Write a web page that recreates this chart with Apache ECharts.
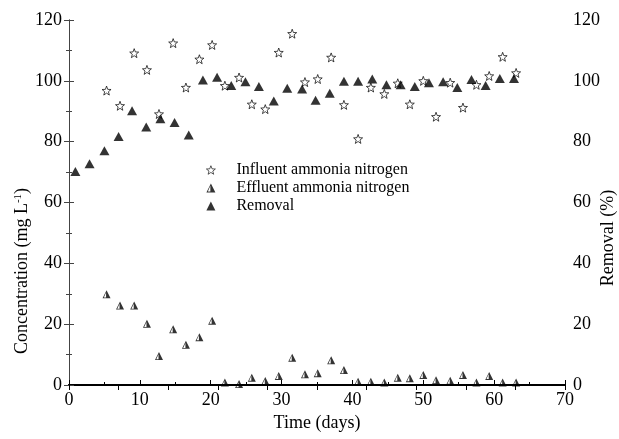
<!DOCTYPE html>
<html>
<head>
<meta charset="utf-8">
<script src="https://cdn.jsdelivr.net/npm/echarts@6/dist/echarts.min.js"></script>
<style>
  html, body { margin: 0; padding: 0; background: #fff; }
  #chart { width: 619px; height: 439px; }
</style>
</head>
<body>
<div id="chart"></div>
<script>
// sampling days for influent / effluent
var sampleDays = [5.3, 7.2, 9.2, 11.0, 12.7, 14.7, 16.5, 18.4, 20.2, 22.0, 24.0, 25.8, 27.7, 29.6, 31.5, 33.3,
                  35.1, 37.0, 38.8, 40.8, 42.6, 44.5, 46.4, 48.1, 50.0, 51.8, 53.8, 55.6, 57.5, 59.3, 61.2, 63.1];
var influent = [96.8, 91.8, 109.1, 103.6, 89.1, 112.4, 97.8, 107.1, 111.8, 98.4, 101.1, 92.3, 90.7, 109.3, 115.5, 99.6,
                100.6, 107.7, 92.1, 80.9, 97.8, 95.7, 99.2, 92.3, 100.0, 88.2, 99.4, 91.2, 98.7, 101.6, 107.9, 102.6];
var effluent = [29.8, 26.1, 26.1, 20.1, 9.5, 18.3, 13.2, 15.7, 21.1, 0.8, 0.3, 2.4, 1.3, 3.0, 9.0, 3.5,
                3.9, 8.1, 4.9, 1.1, 1.1, 0.8, 2.4, 2.2, 3.3, 1.6, 1.4, 3.3, 0.8, 3.0, 0.8, 0.8];
// removal (%)
var removalDays = [0.9, 2.9, 5.0, 7.0, 8.9, 10.9, 12.9, 14.9, 16.9, 18.9, 20.9, 22.9, 24.9, 26.8, 28.9, 30.8,
                   32.9, 34.8, 36.8, 38.8, 40.8, 42.8, 44.8, 46.8, 48.8, 50.8, 52.8, 54.8, 56.8, 58.8, 60.8, 62.8];
var removal = [70.2, 72.7, 77.0, 81.7, 90.2, 84.8, 87.5, 86.3, 82.2, 100.3, 101.2, 98.5, 99.7, 98.1, 93.4, 97.6,
               97.3, 93.6, 95.9, 99.9, 99.9, 100.6, 98.7, 98.7, 98.1, 99.4, 99.7, 97.8, 100.4, 98.5, 100.8, 100.8];

var xTicks = [0, 70, 10];
var yTicks = [0, 120, 20];

var FONT = 'Liberation Serif';

function pairs(xs, ys) {
    return xs.map(function (x, i) { return [x, ys[i]]; });
}

// outline star marker
function starPath() {
    var d = '';
    for (var i = 0; i < 10; i++) {
        var r = i % 2 === 0 ? 10 : 4.2;
        var a = -Math.PI / 2 + i * Math.PI / 5;
        d += (i === 0 ? 'M' : 'L') + (10 + r * Math.cos(a)).toFixed(2) + ',' + (10 + r * Math.sin(a)).toFixed(2) + ' ';
    }
    return 'path://' + d + 'Z';
}
// triangle with a light left edge
var halfTri = 'path://M5,0 L10,10 L0,10 Z M4.4,2.6 L1.6,8.8 L4.4,8.8 Z';

var chart = echarts.init(document.getElementById('chart'));

var axisFont = { color: '#000', fontFamily: FONT, fontSize: 18 };

var option = {
    animation: false,
    backgroundColor: '#fff',
    grid: { left: 69, right: 54, top: 20, bottom: 54 },
    legend: {
        orient: 'vertical',
        left: 201,
        top: 157,
        itemWidth: 9,
        itemHeight: 9,
        itemGap: 2,
        itemStyle: { borderWidth: 0.8 },
        textStyle: { color: '#000', fontFamily: FONT, fontSize: 16, padding: [0, 0, 0, 16] },
        data: ['Influent ammonia nitrogen', 'Effluent ammonia nitrogen', 'Removal']
    },
    xAxis: [{
        type: 'value',
        min: xTicks[0], max: xTicks[1], interval: xTicks[2],
        position: 'bottom',
        axisLine: { lineStyle: { color: '#000', width: 2 } },
        axisTick: { inside: true, length: 5, lineStyle: { color: '#000' } },
        minorTick: { show: true, splitNumber: 2, length: 3, lineStyle: { color: '#000' } },
        axisLabel: Object.assign({ margin: 6 }, axisFont),
        splitLine: { show: false },
        name: 'Time (days)',
        nameLocation: 'middle',
        nameGap: 28,
        nameTextStyle: axisFont
    }, {
        type: 'value',
        min: 0, max: 70, interval: 7,
        position: 'top',
        axisLine: { lineStyle: { color: '#000', width: 2 } },
        axisTick: { inside: true, length: 5, lineStyle: { color: '#000' } },
        axisLabel: { show: false },
        splitLine: { show: false }
    }],
    yAxis: [{
        type: 'value',
        min: yTicks[0], max: yTicks[1], interval: yTicks[2],
        position: 'left',
        axisLine: { show: true, lineStyle: { color: '#444', width: 1 } },
        axisTick: { inside: true, length: 5, lineStyle: { color: '#444' } },
        minorTick: { show: true, splitNumber: 2, length: 3, lineStyle: { color: '#444' } },
        axisLabel: Object.assign({ margin: 7 }, axisFont),
        splitLine: { show: false }
    }, {
        type: 'value',
        min: yTicks[0], max: yTicks[1], interval: yTicks[2],
        position: 'right',
        axisLine: { show: true, lineStyle: { color: '#444', width: 1 } },
        axisTick: { inside: true, length: 5, lineStyle: { color: '#444' } },
        minorTick: { show: true, splitNumber: 2, length: 3, lineStyle: { color: '#444' } },
        axisLabel: Object.assign({ margin: 8 }, axisFont),
        splitLine: { show: false }
    }],
    graphic: [{
        type: 'text',
        x: 22, y: 271,
        rotation: Math.PI / 2,
        style: {
            text: 'Concentration (mg L{sup|-1})',
            fill: '#000',
            font: '18px "Liberation Serif"',
            align: 'center',
            verticalAlign: 'middle',
            rich: {
                sup: { fontSize: 11, fontFamily: FONT, verticalAlign: 'top', lineHeight: 18 }
            }
        }
    }, {
        type: 'text',
        x: 608, y: 238,
        rotation: Math.PI / 2,
        style: {
            text: 'Removal (%)',
            fill: '#000',
            font: '18px "Liberation Serif"',
            align: 'center',
            verticalAlign: 'middle'
        }
    }],
    series: [{
        name: 'Influent ammonia nitrogen',
        type: 'scatter',
        xAxisIndex: 0, yAxisIndex: 0,
        symbol: starPath(),
        symbolSize: 9,
        itemStyle: { color: '#fff', borderColor: '#000', borderWidth: 0.9 },
        data: pairs(sampleDays, influent)
    }, {
        name: 'Effluent ammonia nitrogen',
        type: 'scatter',
        xAxisIndex: 0, yAxisIndex: 0,
        symbol: halfTri,
        symbolSize: [8, 8],
        itemStyle: { color: '#000' },
        data: pairs(sampleDays, effluent)
    }, {
        name: 'Removal',
        type: 'scatter',
        xAxisIndex: 0, yAxisIndex: 1,
        symbol: 'triangle',
        symbolSize: [10, 9],
        itemStyle: { color: '#000' },
        data: pairs(removalDays, removal)
    }]
};

chart.setOption(option);
window.addEventListener('resize', chart.resize);
</script>
</body>
</html>
